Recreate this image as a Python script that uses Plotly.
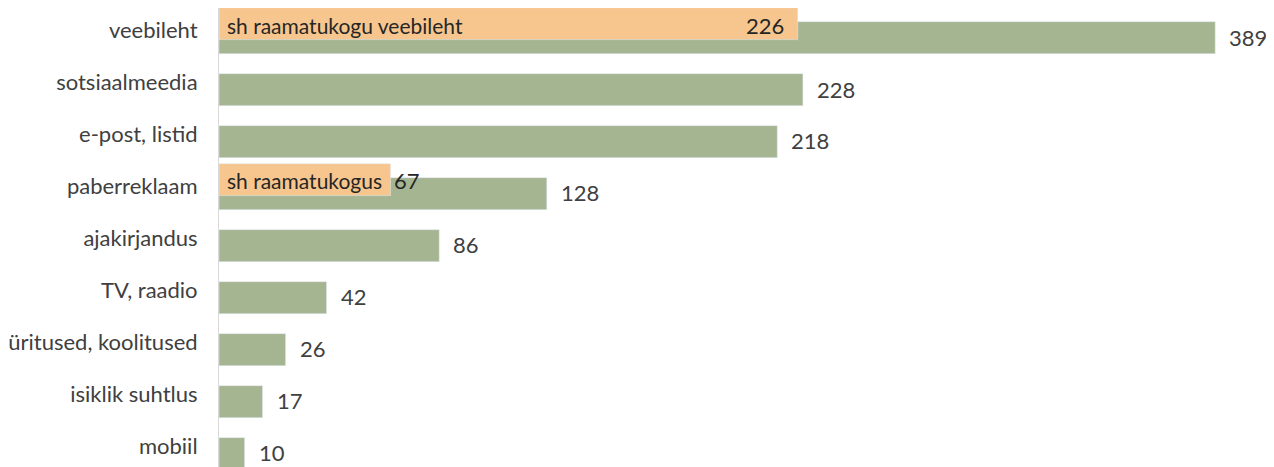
import plotly.graph_objects as go

# kanalid ja vastuste arv
categories = [
    "veebileht",
    "sotsiaalmeedia",
    "e-post, listid",
    "paberreklaam",
    "ajakirjandus",
    "TV, raadio",
    "üritused, koolitused",
    "isiklik suhtlus",
    "mobiil",
]
totals = [389, 228, 218, 128, 86, 42, 26, 17, 10]

# "sh" alamhulgad (ainult kahel kategoorial)
sub_categories = ["veebileht", "paberreklaam"]
sub_values = [226, 67]
sub_names = ["sh raamatukogu veebileht", "sh raamatukogus"]

GREEN = "#a5b592"
ORANGE = "#f7c68f"
TEXT = "#404040"
FONT = "Lato"

fig = go.Figure()

fig.add_trace(
    go.Bar(
        y=categories,
        x=totals,
        orientation="h",
        marker=dict(color=GREEN),
        width=0.615,
        offset=-0.16,
        hoverinfo="x+y",
    )
)

fig.add_trace(
    go.Bar(
        y=sub_categories,
        x=sub_values,
        orientation="h",
        marker=dict(color=ORANGE),
        width=0.615,
        offset=-0.43,
        hoverinfo="x+y",
    )
)

annotations = []
for cat, val in zip(categories, totals):
    annotations.append(
        dict(
            x=val, y=cat, text=str(val), showarrow=False,
            xanchor="left", xshift=12, yshift=-7,
            font=dict(family=FONT, size=22, color=TEXT),
        )
    )

for cat, val, name in zip(sub_categories, sub_values, sub_names):
    annotations.append(
        dict(
            x=0, y=cat, text=name, showarrow=False,
            xanchor="left", xshift=6, yshift=5,
            font=dict(family=FONT, size=21, color="#262626"),
        )
    )
    # suur väärtus mahub ribasse, väike jääb riba otsa taha
    inside = val > 100
    annotations.append(
        dict(
            x=val, y=cat, text=str(val), showarrow=False,
            xanchor="right" if inside else "left",
            xshift=-12 if inside else 1, yshift=5,
            font=dict(family=FONT, size=22, color="#262626"),
        )
    )

# lehe body-l on 8px vaikimisi veeris, seega joonis on 8px võrra väiksem
fig.update_layout(
    barmode="overlay",
    width=1266,
    height=459,
    margin=dict(l=211, r=5, t=0, b=0, autoexpand=False),
    paper_bgcolor="white",
    plot_bgcolor="white",
    showlegend=False,
    annotations=annotations,
    xaxis=dict(
        range=[0, 410],
        showticklabels=False,
        showgrid=False,
        zeroline=False,
        automargin=False,
    ),
    yaxis=dict(
        type="category",
        categoryorder="array",
        categoryarray=categories,
        range=[8.404, -0.423],
        automargin=False,
        showline=True,
        linecolor="#d9d9d9",
        linewidth=1,
        showgrid=False,
        ticks="outside",
        ticklen=16,
        tickcolor="rgba(0,0,0,0)",
        tickfont=dict(family=FONT, size=22, color=TEXT),
    ),
)

fig.write_html("out.html")
